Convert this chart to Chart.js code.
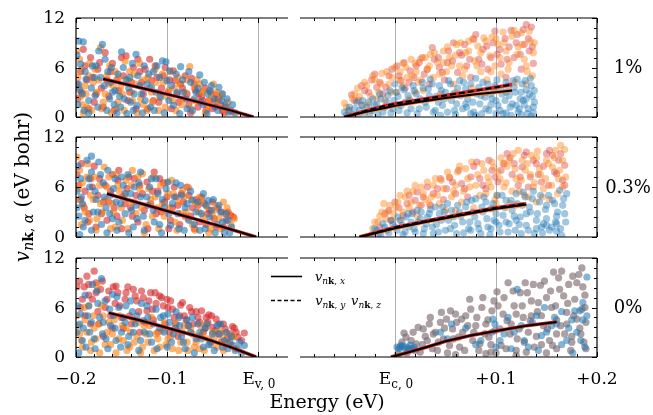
<!DOCTYPE html>
<html>
<head>
<meta charset="utf-8">
<script src="https://cdn.jsdelivr.net/npm/chart.js@4.4.1/dist/chart.umd.min.js"></script>
<style>
html, body { margin: 0; padding: 0; background: #fff; }
#wrap { position: relative; width: 653px; height: 415px; }
#wrap canvas { position: absolute; left: 0; top: 0; }
</style>
</head>
<body>
<div id="wrap"></div>
<script>
// scatter lists are flat [energy (meV), velocity (0.1 eV bohr), ...]
// valence band, 1% strain
const tlBlue = [-197,92, -192,91, -199,75, -195,64, -190,55, -197,40, -193,28, -198,15, -191,8, -186,20, -183,35, -180,48, -178,62, -175,80, -171,88, -168,70, -165,55, -162,42, -160,30, -158,15, -155,5, -152,25, -150,79, -148,60, -145,45, -142,35, -140,18, -137,8, -134,76, -132,50, -128,28, -125,62, -122,40, -118,12, -115,55, -112,30, -108,48, -105,68, -101,67, -98,20, -95,38, -90,52, -85,61, -82,30, -78,10, -74,42, -70,22, -66,35, -64,51, -60,15, -55,28, -51,38, -47,12, -43,36, -40,20, -34,22, -30,8, -25,5,
  -196,33, -189,46, -186,5, -182,62, -179,26, -176,12, -173,48, -169,38, -166,8, -163,22, -161,60, -157,32, -154,52, -151,12, -147,22, -144,4, -141,48, -138,65, -136,28, -133,14, -130,38, -127,5, -124,20, -120,52, -117,36, -114,8, -111,62, -107,24, -103,5, -100,44, -97,56, -93,14, -89,30, -86,4, -83,45, -79,22, -76,55, -72,8, -68,30, -63,18, -59,42, -56,4, -53,32, -48,22, -44,8, -39,28, -36,14, -32,6, -28,15];
const tlOrange = [-199,80, -196,70, -194,58, -198,48, -190,38, -195,25, -188,12, -192,5, -185,65, -181,42, -177,30, -173,84, -170,18, -166,50, -163,62, -159,38, -156,10, -153,48, -149,28, -146,68, -141,55, -138,20, -135,40, -130,65, -126,15, -121,48, -117,30, -113,58, -109,8, -104,42, -100,25, -96,55, -92,35, -88,48, -84,15, -80,30, -75,61, -71,20, -67,45, -64,40, -60,32, -56,12, -51,25, -46,30, -42,23, -38,10, -33,18, -28,6,
  -197,36, -193,15, -189,28, -186,50, -183,8, -179,58, -175,45, -172,10, -168,28, -164,40, -161,5, -157,55, -154,18, -151,36, -147,8, -143,45, -139,30, -136,52, -133,5, -129,22, -125,45, -122,8, -119,35, -116,18, -112,42, -108,25, -105,52, -102,12, -98,32, -94,20, -90,8, -86,40, -82,22, -78,45, -74,10, -70,36, -66,18, -62,30, -58,5, -54,18, -49,40, -44,15, -40,28, -35,8];
const tlRed = [-198,22, -195,55, -192,82, -188,45, -184,72, -180,18, -176,58, -172,35, -168,78, -164,25, -160,65, -155,45, -150,72, -145,74, -141,30, -137,60, -132,70, -128,42, -124,58, -119,70, -115,20, -111,48, -106,35, -102,60, -97,45, -93,56, -89,28, -85,40, -80,50, -76,15, -73,47, -69,33, -65,28, -62,25, -58,35, -54,20, -50,10, -46,27, -41,15, -37,5,
  -199,40, -194,30, -190,62, -186,10, -182,48, -178,28, -174,66, -170,12, -166,45, -162,55, -158,8, -153,32, -148,50, -143,20, -139,42, -134,10, -130,55, -126,28, -121,10, -117,44, -113,62, -109,18, -104,50, -99,30, -95,10, -91,44, -87,18, -83,35, -78,28, -74,5, -70,40, -66,12, -61,20, -57,8, -52,30, -48,18, -44,22, -39,8, -35,12];
// conduction band, 1% strain
const trBlue = [-50,6, -45,12, -42,3, -38,18, -35,8, -32,20, -28,12, -25,4, -22,22, -18,15, -15,28, -12,6, -8,18, -5,32, -2,10, 0,40, 3,25, 6,14, 9,33, 12,5, 15,20, 18,38, 21,28, 24,10, 27,42, 30,18, 33,34, 35,46, 38,6, 41,25, 44,38, 47,14, 50,30, 53,44, 56,20, 59,8, 62,35, 65,26, 68,42, 71,12, 74,30, 77,18, 80,47, 83,36, 86,4, 89,24, 92,40, 95,15, 98,32, 101,45, 104,8, 106,28, 109,20, 112,38, 114,12, 117,44, 119,30, 122,6, 124,22, 126,40, 128,15, 130,33, 132,10, 134,47, 136,25, 137,5, 138,18, 60,3, 80,2, 100,4, 115,2, 125,3, 135,1, 45,2, 90,10, 110,5,
  -48,2, -46,8, -40,10, -36,2, -33,14, -30,5, -26,18, -23,8, -20,14, -17,3, -14,22, -10,12, -7,26, -4,5, -1,20, 1,30, 4,8, 7,36, 10,18, 13,26, 16,10, 19,32, 22,4, 25,22, 28,35, 31,12, 34,26, 37,40, 40,8, 43,18, 46,32, 49,22, 52,6, 55,40, 58,28, 61,16, 64,44, 67,10, 70,34, 72,22, 75,40, 78,6, 81,28, 84,16, 87,42, 90,30, 93,8, 96,22, 99,38, 102,14, 105,34, 107,4, 110,42, 113,26, 116,16, 118,36, 121,46, 123,10, 125,30, 127,20, 129,44, 131,4, 133,28, 135,38, 137,12, 138,32, 120,14, 100,20, 85,26, 70,16, 130,22, 110,30, 95,28, 75,4];
const trOrange = [-50,17, -45,8, -40,28, -37,35, -32,14, -28,38, -24,25, -20,45, -16,30, -13,53, -10,20, -6,40, -3,48, 2,30, 5,55, 8,38, 11,60, 14,22, 17,50, 20,65, 23,42, 25,70, 28,32, 32,58, 35,76, 38,48, 42,66, 45,28, 48,80, 51,55, 54,72, 58,40, 61,88, 64,62, 67,50, 70,78, 73,92, 76,35, 79,68, 82,86, 85,55, 88,96, 91,45, 94,74, 96,97, 99,62, 102,88, 105,52, 107,103, 110,80, 113,66, 116,98, 119,42, 122,85, 125,102, 128,70, 131,55, 134,92, 137,78,
  -48,12, -42,22, -35,25, -30,42, -26,15, -22,50, -18,22, -14,40, -8,55, -4,30, 0,60, 4,45, 8,65, 12,48, 16,70, 21,55, 26,45, 30,72, 34,62, 39,78, 44,52, 48,66, 52,85, 56,62, 60,75, 65,90, 69,58, 73,80, 77,95, 81,62, 85,78, 90,92, 95,55, 100,95, 104,72, 108,90, 112,58, 118,105, 121,76, 126,88, 130,62, 133,104, 136,50, 138,90, 20,30, 60,30, 100,36, 130,40];
const trRed = [-43,27, -36,20, -30,32, -23,45, -18,36, -12,28, -6,50, 2,62, 6,44, 10,35, 15,56, 19,48, 24,66, 29,52, 34,40, 39,70, 44,60, 49,45, 53,80, 57,68, 62,54, 66,75, 71,62, 75,48, 78,94, 83,70, 87,82, 92,58, 97,90, 101,76, 105,64, 109,95, 113,85, 118,72, 121,100, 125,58, 128,88, 130,112, 133,80, 135,109, 137,65,
  -40,20, -33,38, -26,30, -20,52, -15,42, -9,36, -3,58, 4,50, 9,66, 14,42, 21,62, 27,72, 32,58, 37,84, 43,72, 47,54, 52,66, 58,90, 64,78, 69,88, 74,70, 80,100, 86,64, 91,86, 95,72, 99,104, 104,82, 111,70, 115,105, 120,90, 124,76, 127,106, 132,95, 136,85, 110,48];
// valence band, 0.3% strain
const mlBlue = [-198,85, -195,70, -199,55, -193,40, -197,25, -192,12, -196,3, -188,92, -185,60, -183,78, -181,30, -183,97, -178,45, -175,90, -172,15, -170,65, -167,35, -165,80, -162,50, -160,22, -157,70, -155,8, -151,40, -148,62, -146,28, -143,75, -140,52, -137,12, -134,38, -131,65, -129,78, -126,25, -122,48, -119,60, -115,32, -112,70, -108,15, -105,45, -101,58, -98,28, -94,40, -90,65, -87,10, -84,50, -80,35, -76,20, -72,44, -68,30, -64,8, -60,52, -57,38, -53,24, -49,45, -45,15, -41,30, -37,5, -33,20, -29,12,
  -199,35, -194,48, -190,20, -186,70, -183,8, -179,55, -176,30, -173,75, -169,48, -166,5, -163,28, -159,58, -156,42, -153,18, -150,72, -146,52, -142,5, -139,32, -136,60, -133,22, -129,48, -125,8, -121,38, -117,70, -114,18, -110,52, -106,5, -103,36, -99,66, -96,14, -92,48, -88,28, -85,62, -81,8, -78,40, -74,55, -70,15, -66,42, -62,28, -58,10, -55,44, -51,32, -47,5, -43,38, -39,18, -35,28, -31,5];
const mlOrange = [-199,96, -196,80, -193,65, -198,45, -190,30, -194,15, -187,88, -184,50, -180,72, -177,22, -173,40, -169,84, -166,60, -162,10, -159,30, -156,75, -152,55, -149,20, -145,68, -141,42, -138,80, -134,28, -130,58, -127,76, -123,15, -118,45, -115,72, -111,35, -107,62, -103,25, -99,52, -95,68, -91,18, -87,42, -83,56, -79,30, -76,59, -72,15, -68,40, -64,48, -60,25, -56,36, -52,10, -48,32, -43,22, -38,42, -34,35, -30,15, -26,22,
  -197,58, -192,38, -188,72, -185,20, -181,45, -178,8, -174,62, -171,30, -167,45, -164,72, -160,40, -157,12, -154,62, -150,35, -147,50, -143,10, -139,62, -136,42, -132,72, -128,35, -125,5, -120,58, -116,25, -113,48, -109,10, -105,40, -101,65, -97,35, -93,52, -89,8, -85,28, -81,48, -77,22, -73,45, -69,8, -65,30, -61,42, -58,18, -54,5, -50,25, -46,38, -41,10, -37,28, -32,28];
const mlRed = [-197,62, -194,88, -191,35, -187,18, -184,70, -180,85, -176,50, -172,28, -168,62, -164,42, -160,75, -155,25, -153,80, -149,48, -144,58, -140,35, -136,70, -132,18, -127,52, -122,66, -118,40, -114,78, -110,55, -106,30, -104,65, -100,48, -96,20, -92,60, -88,38, -84,52, -80,25, -76,50, -72,35, -68,45, -64,18, -59,40, -55,28, -50,42, -46,12, -40,30, -35,20, -30,26, -27,24,
  -199,75, -195,45, -190,55, -186,28, -182,60, -178,12, -174,70, -170,42, -166,20, -162,55, -158,35, -154,68, -150,10, -146,40, -142,72, -138,25, -134,50, -130,62, -125,32, -121,10, -116,55, -112,28, -108,70, -103,42, -98,10, -94,35, -90,48, -86,15, -82,42, -78,60, -74,25, -70,10, -66,38, -62,48, -57,15, -53,32, -48,22, -44,35, -38,12, -33,30];
// conduction band, 0.3% strain
const mrBlue = [-22,3, -18,8, -14,2, -10,12, -6,5, -2,15, 2,8, 5,20, 8,3, 11,24, 14,12, 17,28, 20,6, 23,18, 26,30, 29,10, 32,24, 35,33, 38,4, 41,15, 44,28, 47,36, 50,8, 53,20, 56,32, 59,14, 62,38, 65,25, 68,5, 71,42, 74,18, 77,30, 80,46, 83,10, 86,36, 88,48, 91,22, 94,3, 97,40, 100,28, 103,14, 106,50, 109,35, 112,6, 115,44, 118,25, 120,52, 123,15, 126,38, 129,48, 132,8, 134,30, 137,55, 140,20, 143,42, 146,5, 149,33, 152,50, 155,12, 158,40, 160,25, 163,56, 165,2, 167,46, 169,18, 95,10, 125,4, 145,12, 160,7, 110,18, 75,8, 150,22,
  -20,10, -16,4, -12,16, -8,8, -4,20, 0,12, 3,24, 7,14, 10,6, 13,28, 16,18, 19,10, 22,32, 25,22, 28,4, 31,16, 34,28, 37,12, 40,36, 43,6, 46,20, 49,30, 52,40, 55,10, 58,24, 61,4, 64,30, 67,18, 70,36, 73,10, 76,44, 79,24, 82,16, 85,4, 87,30, 90,42, 92,12, 95,34, 98,20, 101,50, 104,6, 107,26, 110,44, 113,16, 116,32, 119,8, 121,40, 124,24, 127,54, 130,14, 133,36, 136,46, 138,4, 141,28, 144,50, 147,16, 150,38, 153,8, 156,44, 159,18, 161,30, 164,10, 166,38, 168,28, 170,52, 140,10, 120,20, 100,18, 150,14, 130,28, 160,16];
const mrOrange = [-22,10, -17,18, -13,30, -9,22, -5,38, -1,28, 3,42, 6,20, 10,48, 14,35, 18,55, 22,25, 26,60, 30,45, 34,40, 38,62, 42,50, 46,68, 50,32, 54,72, 58,55, 62,78, 66,42, 70,82, 74,60, 78,35, 82,75, 86,88, 90,52, 93,66, 96,90, 99,45, 102,78, 105,95, 108,60, 111,85, 114,40, 117,100, 120,70, 123,55, 126,92, 129,80, 132,48, 135,98, 138,65, 141,103, 144,75, 147,58, 150,92, 153,45, 156,84, 159,104, 162,70, 164,110, 166,60, 168,105,
  -20,18, -15,25, -11,40, -7,30, -3,20, 1,36, 5,50, 8,30, 12,55, 16,42, 20,62, 24,38, 28,52, 32,66, 36,48, 40,70, 44,40, 48,58, 52,78, 56,48, 60,62, 64,85, 68,55, 72,70, 76,90, 80,62, 84,50, 88,80, 92,72, 95,60, 98,84, 101,50, 104,70, 107,88, 110,65, 113,92, 116,55, 119,82, 122,104, 125,68, 128,50, 131,88, 134,75, 137,60, 140,95, 143,82, 146,48, 149,70, 152,88, 155,62, 158,95, 161,52, 163,80, 166,92, 169,72, 60,32, 100,40, 140,42, 120,38];
const mrRed = [-10,28, -4,20, 4,35, 12,40, 18,30, 22,54, 28,48, 35,38, 42,58, 48,45, 54,71, 60,52, 66,64, 72,48, 78,85, 84,70, 90,58, 96,80, 102,66, 108,88, 114,95, 116,75, 122,62, 126,84, 130,102, 134,72, 140,88, 145,66, 150,100, 153,104, 158,78, 162,92, 166,68, 168,86,
  -15,12, -6,32, 0,42, 8,26, 14,50, 20,44, 26,38, 32,60, 38,52, 45,70, 51,58, 57,66, 63,80, 69,58, 75,72, 81,90, 87,62, 93,92, 99,72, 105,80, 111,100, 118,88, 124,72, 128,98, 132,60, 137,92, 142,75, 147,85, 152,62, 156,98, 160,76, 164,100, 168,62];
// valence band, 0%
const blRed = [-195,60, -191,85, -188,98, -186,75, -184,40, -180,104, -178,90, -176,55, -173,82, -170,25, -166,70, -162,50, -159,85, -156,86, -152,62, -148,35, -145,78, -141,50, -137,82, -133,68, -130,30, -126,72, -122,56, -118,78, -115,45, -112,65, -108,74, -106,72, -102,40, -99,60, -96,68, -92,48, -88,25, -85,63, -81,50, -77,38, -73,55, -68,55, -64,42, -60,30, -57,48, -54,51, -50,36, -46,46, -42,28, -38,40, -34,22, -28,37, -24,30, -18,20, -15,29,
  -199,85, -196,92, -193,70, -190,50, -186,88, -182,70, -178,78, -175,40, -171,92, -168,60, -164,80, -160,35, -157,65, -154,78, -150,48, -146,70, -143,85, -139,40, -135,74, -131,55, -128,80, -124,42, -120,68, -116,58, -113,78, -110,30, -104,62, -100,70, -97,30, -94,58, -90,40, -86,50, -83,66, -79,45, -75,60, -71,40, -66,48, -62,56, -58,35, -55,42, -51,50, -47,32, -43,40, -40,18, -36,34, -31,28, -26,35, -22,24];
const blBlue = [-198,62, -196,40, -193,20, -197,5, -190,75, -187,50, -185,30, -182,88, -179,10, -176,65, -172,95, -170,42, -167,22, -163,58, -160,76, -157,35, -155,73, -151,12, -148,48, -145,62, -142,25, -138,55, -135,40, -131,8, -128,65, -125,30, -121,48, -117,18, -112,58, -108,35, -104,50, -100,12, -97,42, -93,28, -90,55, -86,38, -82,18, -78,45, -74,30, -70,5, -66,40, -62,22, -58,35, -54,15, -50,28, -45,38, -41,40, -37,20, -33,10, -29,25, -25,8, -20,18, -15,14,
  -199,30, -195,52, -192,35, -189,12, -186,62, -183,42, -180,22, -177,80, -174,48, -171,28, -168,68, -165,10, -162,38, -159,50, -156,20, -153,60, -150,30, -146,42, -143,15, -140,68, -137,30, -133,50, -129,20, -126,44, -122,62, -119,28, -115,40, -111,10, -107,48, -103,30, -99,52, -95,18, -91,35, -87,48, -84,25, -80,10, -76,38, -72,48, -68,22, -64,30, -60,12, -56,40, -52,18, -48,8, -43,28, -39,12, -35,30, -31,18, -27,14, -22,10, -18,5];
const blOrange = [-199,50, -196,28, -193,12, -190,45, -186,62, -183,18, -180,35, -177,86, -174,5, -170,50, -166,30, -162,15, -158,45, -153,22, -149,38, -144,8, -140,30, -136,18, -131,42, -127,12, -123,28, -119,38, -114,8, -110,22, -105,32, -101,15, -96,25, -91,40, -87,8, -83,30, -78,18, -74,35, -70,12, -66,25, -63,38, -59,8, -55,22, -50,30, -45,12, -40,20, -35,28, -30,15, -26,24,
  -197,38, -194,20, -191,60, -188,30, -184,8, -181,50, -178,22, -175,40, -172,62, -168,15, -164,42, -160,28, -156,5, -152,50, -148,20, -145,35, -141,12, -137,45, -133,25, -129,5, -125,38, -121,18, -117,48, -112,28, -108,12, -103,42, -99,22, -94,10, -89,32, -85,18, -81,38, -77,8, -72,28, -68,18, -64,10, -61,28, -57,40, -52,15, -48,24, -42,32, -38,8, -33,18, -28,26, -24,10];
// conduction band, 0%: x, y, z degenerate (all three colours on the same states)
const brAll = [5,12, 9,29, 12,5, 16,20, 20,8, 23,36, 27,15, 30,25, 34,40, 37,10, 40,30, 43,18, 46,54, 49,35, 52,5, 55,56, 58,22, 61,42, 64,12, 67,30, 70,50, 74,70, 77,20, 80,38, 83,8, 86,60, 89,28, 92,45, 95,15, 98,68, 101,79, 104,34, 107,52, 110,10, 112,90, 115,40, 118,62, 121,22, 124,78, 127,48, 129,90, 132,30, 135,68, 138,12, 141,55, 144,87, 147,38, 150,72, 153,20, 155,60, 157,103, 160,45, 163,82, 165,104, 168,28, 171,65, 174,8, 177,50, 180,90, 183,35, 185,108, 187,18, 188,75, 189,42, 100,5, 130,6, 160,10, 175,25, 60,3, 90,4, 120,2, 145,15, 170,40, 185,58,
  3,4, 7,18, 11,24, 14,10, 18,30, 21,16, 25,6, 28,34, 32,20, 35,48, 38,28, 42,8, 45,42, 48,22, 51,46, 54,14, 57,34, 60,52, 63,24, 66,46, 69,8, 72,38, 75,58, 78,30, 81,48, 84,16, 87,72, 90,40, 93,24, 96,56, 99,32, 102,62, 105,14, 108,72, 111,44, 114,28, 117,80, 120,52, 123,34, 126,62, 128,18, 131,78, 134,44, 137,88, 140,25, 142,66, 145,50, 148,92, 151,34, 154,80, 156,14, 159,62, 162,96, 164,38, 167,74, 170,54, 172,88, 175,18, 178,70, 180,46, 182,100, 184,28, 186,85, 188,60, 189,10, 176,98, 150,5, 120,8, 95,6, 135,50, 160,28];
const brBlue = [2,12, 6,14, 10,10, 15,14, 19,12, 45,30, 52,22, 70,35, 85,20, 97,46, 99,40, 108,28, 121,82, 128,20, 136,42, 142,8, 150,30, 158,48, 165,15, 172,35, 178,56, 183,56, 186,45, 190,97, 188,12,
  4,10, 8,13, 12,12, 17,10, 56,40, 80,15, 96,30, 112,48, 140,50, 165,55, 170,20, 180,30, 186,66, 176,5, 155,38, 132,12, 118,30, 100,12, 104,20, 125,38, 145,26, 160,40, 175,45, 184,20, 190,50, 148,60, 115,10];

// averaged velocities (eV, eV bohr)
const tlLineX = [-0.17, -0.15, -0.12, -0.09, -0.06, -0.03, -0.005];
const tlLineY = [4.6, 4.1, 3.3, 2.5, 1.65, 0.8, 0];
const trLineX = [-0.05, -0.03, -0.01, 0, 0.02, 0.05, 0.08, 0.1, 0.116];
const trSolidY = [0, 0.6, 1.1, 1.35, 1.75, 2.3, 2.75, 3.0, 3.2];
const trDashY = [0, 0.7, 1.35, 1.6, 2.0, 2.6, 3.2, 3.6, 3.95];
const mlLineX = [-0.166, -0.12, -0.08, -0.04, -0.002];
const mlLineY = [5.2, 3.75, 2.5, 1.25, 0];
const mrLineX = [-0.035, -0.02, 0, 0.03, 0.06, 0.1, 0.13];
const mrSolidY = [0, 0.45, 1.05, 1.8, 2.5, 3.4, 3.9];
const mrDashY = [0, 0.5, 1.15, 1.9, 2.6, 3.5, 4.0];
const blLineX = [-0.164, -0.13, -0.1, -0.06, -0.03, -0.002];
const blLineY = [5.35, 4.45, 3.55, 2.3, 1.2, 0];
const brLineX = [-0.004, 0.01, 0.03, 0.05, 0.075, 0.1, 0.13, 0.16];
const brLineY = [0, 0.45, 1.15, 1.9, 2.6, 3.15, 3.8, 4.25];

const leftTicks = [-0.2, -0.1, 0];
const leftTickLabels = ['\u22120.2', '\u22120.1', ['E', 'v, 0']];
const rightTicks = [0, 0.1, 0.2];
const rightTickLabels = [['E', 'c, 0'], '+0.1', '+0.2'];
const yTicks = [0, 6, 12];
const strainLabels = ['1%', '0.3%', '0%'];

const SERIF = '"DejaVu Serif", serif';
const BLUE = '31,119,180', ORANGE = '255,127,14', RED = '214,39,40';

const cols = [
  { l: 76, r: 288, min: -0.2, max: 0.033, grid: [-0.1, 0], minorFrom: -0.2, ticks: leftTicks, labels: leftTickLabels },
  { l: 300, r: 597, min: -0.094, max: 0.2, grid: [0, 0.1], minorFrom: -0.08, ticks: rightTicks, labels: rightTickLabels }
];
const rows = [{ t: 18, b: 117 }, { t: 137, b: 237 }, { t: 258, b: 357 }];

function pts(flat) {
  const out = [];
  for (let i = 0; i < flat.length; i += 2) out.push({ x: flat[i] / 1000, y: flat[i + 1] / 10 });
  return out;
}
function dots(flat, rgb, a, order) {
  return { data: pts(flat), backgroundColor: `rgba(${rgb},${a})`, borderWidth: 0,
    pointRadius: 3.6, pointHoverRadius: 3.6, order: order, clip: 0 };
}
function curve(xs, ys, color, w, dash, order) {
  return { data: xs.map((x, i) => ({ x: x, y: ys[i] })), borderColor: color, borderWidth: w,
    borderDash: dash, showLine: true, pointRadius: 0, tension: 0, fill: false, order: order, clip: 0 };
}

// draws text pieces (some subscripted) centred on cx
function drawPieces(ctx, pieces, cx, base, drop) {
  let w = 0;
  pieces.forEach(p => { ctx.font = p.f; p.w = ctx.measureText(p.t).width; w += p.w; });
  let x = cx - w / 2;
  ctx.textAlign = 'left';
  ctx.textBaseline = 'alphabetic';
  pieces.forEach(p => { ctx.font = p.f; ctx.fillText(p.t, x, base + (p.sub ? drop : 0)); x += p.w; });
}
function vLabel(comp, big, small) {
  return [
    { t: 'v', f: `italic ${big}px ${SERIF}` },
    { t: 'n', f: `italic ${small}px ${SERIF}`, sub: true },
    { t: 'k', f: `bold ${small}px ${SERIF}`, sub: true },
    { t: ', ', f: `${small}px ${SERIF}`, sub: true },
    { t: comp, f: `italic ${small}px ${SERIF}`, sub: true }
  ];
}

const decor = {
  id: 'decor',
  beforeDatasetsDraw(chart, args, o) {
    const { ctx, chartArea: a, scales: { x } } = chart;
    const col = cols[o.c];
    ctx.save();
    ctx.strokeStyle = '#b0b0b0';
    ctx.lineWidth = 1;
    col.grid.forEach(v => {
      const px = Math.round(x.getPixelForValue(v)) + 0.5;
      ctx.beginPath(); ctx.moveTo(px, a.top); ctx.lineTo(px, a.bottom); ctx.stroke();
    });
    ctx.restore();
  },
  afterDatasetsDraw(chart, args, o) {
    const { ctx, chartArea: a, scales: { x, y } } = chart;
    const col = cols[o.c];
    ctx.save();
    ctx.strokeStyle = '#000';
    ctx.lineWidth = 1.2;
    ctx.beginPath();
    ctx.moveTo(a.left, a.top); ctx.lineTo(a.right, a.top);
    ctx.moveTo(a.left, a.bottom); ctx.lineTo(a.right, a.bottom);
    const sx = o.c === 0 ? a.left : a.right;
    ctx.moveTo(sx, a.top); ctx.lineTo(sx, a.bottom);
    ctx.stroke();

    ctx.lineWidth = 1;
    ctx.beginPath();
    for (let k = 0; ; k++) {
      const v = +(col.minorFrom + k * 0.02).toFixed(3);
      if (v > x.max) break;
      const major = col.ticks.some(t => Math.abs(t - v) < 1e-6);
      const len = major ? 5 : 3;
      const px = Math.round(x.getPixelForValue(v)) + 0.5;
      ctx.moveTo(px, a.top); ctx.lineTo(px, a.top + len);
      ctx.moveTo(px, a.bottom); ctx.lineTo(px, a.bottom - len);
    }
    const dir = o.c === 0 ? 1 : -1;
    for (let k = 0; k <= 10; k++) {
      const v = k * 1.2;
      const len = (k % 5 === 0) ? 5 : 3;
      const py = Math.round(y.getPixelForValue(v)) + 0.5;
      ctx.moveTo(sx, py); ctx.lineTo(sx + dir * len, py);
    }
    ctx.stroke();

    ctx.fillStyle = '#000';
    if (o.c === 0) {
      ctx.font = `17px ${SERIF}`;
      ctx.textAlign = 'right';
      ctx.textBaseline = 'middle';
      yTicks.forEach(v => ctx.fillText(String(v), a.left - 11, y.getPixelForValue(v) + 1));
    } else {
      ctx.font = `18px ${SERIF}`;
      ctx.textAlign = 'center';
      ctx.textBaseline = 'middle';
      ctx.fillText(strainLabels[o.r], a.right + 31, (a.top + a.bottom) / 2 + 1);
    }
    if (o.r === 2) {
      col.ticks.forEach((v, i) => {
        const lab = col.labels[i];
        const px = x.getPixelForValue(v);
        if (Array.isArray(lab)) {
          drawPieces(ctx, [{ t: lab[0], f: `17px ${SERIF}` }, { t: lab[1], f: `12px ${SERIF}`, sub: true }], px + 1, 384, 4);
        } else {
          ctx.font = `17px ${SERIF}`;
          ctx.textAlign = 'center';
          ctx.textBaseline = 'alphabetic';
          ctx.fillText(lab, px, 384);
        }
      });
    }
    if (o.r === 2 && o.c === 1) {
      // legend
      ctx.lineWidth = 1.6;
      ctx.beginPath(); ctx.moveTo(271, 276.5); ctx.lineTo(302, 276.5); ctx.stroke();
      ctx.setLineDash([4, 2.5]);
      ctx.beginPath(); ctx.moveTo(271, 300.5); ctx.lineTo(302, 300.5); ctx.stroke();
      ctx.setLineDash([]);
      drawPieces(ctx, vLabel('x', 13, 9), 330, 281, 3);
      const yz = vLabel('y', 13, 9).concat([{ t: '  ', f: `9px ${SERIF}` }], vLabel('z', 13, 9));
      drawPieces(ctx, yz, 348, 305, 3);
      // axis titles
      ctx.font = `19px ${SERIF}`;
      ctx.textAlign = 'center';
      ctx.textBaseline = 'alphabetic';
      ctx.fillText('Energy (eV)', 327, 408);
      ctx.save();
      ctx.translate(29, 187);
      ctx.rotate(-Math.PI / 2);
      drawPieces(ctx, vLabel('\u03b1', 20, 14).concat([{ t: ' (eV bohr)', f: `20px ${SERIF}` }]), 0, 0, 4);
      ctx.restore();
    }
    ctx.restore();
  }
};

const panels = [
  { c: 0, r: 0, sets: [
    curve(tlLineX, tlLineY, '#000', 2, [], 0), curve(tlLineX, tlLineY, `rgb(${RED})`, 3.5, [], 1),
    dots(tlBlue, BLUE, 0.6, 2), dots(tlOrange, ORANGE, 0.6, 3), dots(tlRed, RED, 0.6, 4)] },
  { c: 1, r: 0, sets: [
    curve(trLineX, trDashY, '#000', 2, [6, 3], 0), curve(trLineX, trDashY, `rgb(${RED})`, 3.5, [], 1),
    curve(trLineX, trSolidY, '#000', 2, [], 0), curve(trLineX, trSolidY, `rgb(${ORANGE})`, 3.5, [], 1),
    dots(trBlue, BLUE, 0.42, 2), dots(trOrange, ORANGE, 0.42, 3), dots(trRed, RED, 0.38, 4)] },
  { c: 0, r: 1, sets: [
    curve(mlLineX, mlLineY, '#000', 2, [], 0), curve(mlLineX, mlLineY, `rgb(${RED})`, 3.5, [], 1),
    dots(mlBlue, BLUE, 0.6, 2), dots(mlOrange, ORANGE, 0.6, 3), dots(mlRed, RED, 0.6, 4)] },
  { c: 1, r: 1, sets: [
    curve(mrLineX, mrDashY, '#000', 2, [6, 3], 0), curve(mrLineX, mrDashY, `rgb(${RED})`, 3.5, [], 1),
    curve(mrLineX, mrSolidY, '#000', 2, [], 0), curve(mrLineX, mrSolidY, `rgb(${ORANGE})`, 3.5, [], 1),
    dots(mrBlue, BLUE, 0.42, 2), dots(mrOrange, ORANGE, 0.42, 3), dots(mrRed, RED, 0.38, 4)] },
  { c: 0, r: 2, sets: [
    curve(blLineX, blLineY, '#000', 2, [], 0), curve(blLineX, blLineY, `rgb(${RED})`, 3.5, [], 1),
    dots(blBlue, BLUE, 0.6, 2), dots(blOrange, ORANGE, 0.6, 3), dots(blRed, RED, 0.6, 4)] },
  { c: 1, r: 2, sets: [
    curve(brLineX, brLineY, '#000', 2, [], 0), curve(brLineX, brLineY, `rgb(${RED})`, 3.5, [], 1),
    dots(brBlue, BLUE, 0.55, 2),
    dots(brAll, BLUE, 0.35, 3), dots(brAll, ORANGE, 0.25, 4), dots(brAll, RED, 0.25, 5)] }
];

const wrap = document.getElementById('wrap');
panels.forEach(p => {
  const col = cols[p.c], row = rows[p.r];
  const cv = document.createElement('canvas');
  cv.width = 653; cv.height = 415;
  wrap.appendChild(cv);
  new Chart(cv.getContext('2d'), {
    type: 'scatter',
    data: { datasets: p.sets },
    options: {
      responsive: false,
      animation: false,
      events: [],
      layout: { padding: { left: col.l, right: 653 - col.r, top: row.t, bottom: 415 - row.b } },
      scales: {
        x: { type: 'linear', min: col.min, max: col.max, display: false },
        y: { type: 'linear', min: 0, max: 12, display: false }
      },
      plugins: {
        legend: { display: false },
        tooltip: { enabled: false },
        decor: { c: p.c, r: p.r }
      }
    },
    plugins: [decor]
  });
});
</script>
</body>
</html>
